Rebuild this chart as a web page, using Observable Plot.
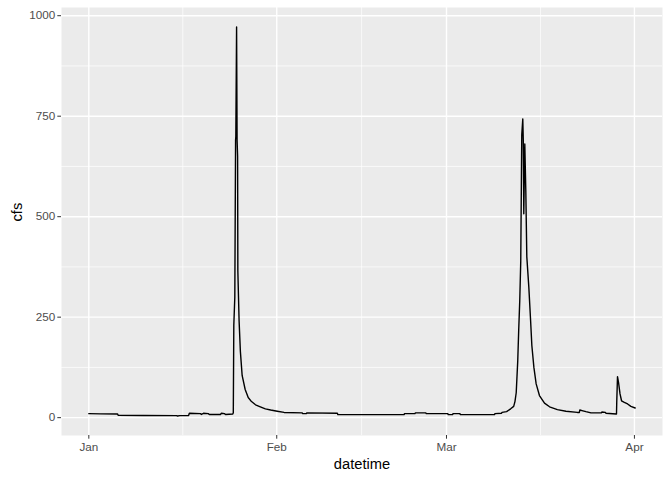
<!DOCTYPE html>
<html>
<head>
<meta charset="utf-8">
<script src="https://cdn.jsdelivr.net/npm/d3@7"></script>
<script src="https://cdn.jsdelivr.net/npm/@observablehq/plot@0.6"></script>
<style>
  html, body { margin: 0; padding: 0; background: #ffffff; }
  #chart { width: 672px; height: 480px; }
</style>
</head>
<body>
<div id="chart"></div>
<script>
const datetimes = [
  "2019-01-01 00:00","2019-01-03 00:00","2019-01-05 18:00","2019-01-05 20:00","2019-01-10 00:00",
  "2019-01-15 12:00","2019-01-15 15:00","2019-01-16 00:00","2019-01-17 11:00","2019-01-17 14:00",
  "2019-01-19 10:00","2019-01-19 14:00","2019-01-19 22:00","2019-01-20 17:00","2019-01-20 21:00",
  "2019-01-22 17:00","2019-01-22 21:00","2019-01-23 09:00","2019-01-23 13:00","2019-01-24 18:00",
  "2019-01-24 20:00","2019-01-24 22:00","2019-01-25 02:00","2019-01-25 05:00","2019-01-25 06:00",
  "2019-01-25 09:00","2019-01-25 11:00","2019-01-25 13:00","2019-01-25 14:00","2019-01-25 19:00",
  "2019-01-26 00:00","2019-01-26 07:00","2019-01-26 19:00","2019-01-27 07:00","2019-01-27 20:00",
  "2019-01-28 12:00","2019-01-29 07:00","2019-01-30 03:00","2019-01-31 00:00","2019-02-01 02:00",
  "2019-02-02 05:00","2019-02-05 05:00","2019-02-05 06:00","2019-02-05 22:00","2019-02-05 23:00",
  "2019-02-11 00:00","2019-02-11 02:00","2019-02-22 00:00","2019-02-22 02:00","2019-02-23 19:00",
  "2019-02-23 21:00","2019-02-25 14:00","2019-02-25 16:00","2019-03-01 05:00","2019-03-01 07:00",
  "2019-03-02 00:00","2019-03-02 02:00","2019-03-03 05:00","2019-03-03 07:00","2019-03-08 22:00",
  "2019-03-09 00:00","2019-03-10 02:00","2019-03-10 04:00","2019-03-10 22:00","2019-03-11 14:00",
  "2019-03-12 02:00","2019-03-12 07:00","2019-03-12 12:00","2019-03-12 18:00","2019-03-12 22:00",
  "2019-03-13 02:00","2019-03-13 06:00","2019-03-13 10:00","2019-03-13 14:00","2019-03-13 16:00",
  "2019-03-13 18:00","2019-03-13 22:00","2019-03-14 02:00","2019-03-14 06:00","2019-03-14 14:00",
  "2019-03-14 21:00","2019-03-15 02:00","2019-03-15 10:00","2019-03-15 19:00","2019-03-16 08:00",
  "2019-03-17 04:00","2019-03-18 00:00","2019-03-19 07:00","2019-03-20 17:00","2019-03-22 14:00",
  "2019-03-22 22:00","2019-03-23 00:00","2019-03-23 12:00","2019-03-24 00:00","2019-03-24 20:00",
  "2019-03-26 13:00","2019-03-26 15:00","2019-03-27 05:00","2019-03-27 07:00","2019-03-29 00:00",
  "2019-03-29 01:00","2019-03-29 02:00","2019-03-29 05:00","2019-03-29 09:00","2019-03-29 15:00",
  "2019-03-29 21:00","2019-03-30 08:00","2019-03-30 21:00","2019-03-31 10:00","2019-04-01 03:00"
];
const cfsValues = [
  10, 9.5, 9, 6, 5.5,
  5, 4, 5, 5.5, 11,
  10, 8, 11, 10, 8,
  8, 11, 10, 8, 9,
  12, 230, 300, 690, 700,
  972, 690, 650, 365, 240,
  165, 105, 70, 50, 40,
  32, 27, 22, 19, 16,
  13, 12, 10, 10, 12,
  11, 7.5, 7.5, 10, 10,
  12, 12, 10, 10, 7.5,
  7.5, 10, 10, 7.5, 7.5,
  10, 11, 13, 15, 22,
  28, 40, 62, 140, 220,
  290, 390, 704, 743, 690,
  507, 681, 565, 400, 324,
  241, 179, 125, 84, 55,
  36, 27, 20, 16, 13,
  13, 19, 17, 15, 12,
  12, 14, 13, 11, 9,
  9, 38, 102, 88, 59,
  42, 38, 34, 28, 24
];
const yMajorTicks = [0, 250, 500, 750, 1000];
const yMinorTicks = [125, 375, 625, 875];
const xMajorTicks = ["2019-01-01 00:00", "2019-02-01 00:00", "2019-03-01 00:00", "2019-04-01 00:00"];
const xMinorTicks = ["2019-01-16 12:00", "2019-02-15 00:00", "2019-03-16 12:00"];
const xTickLabels = ["Jan", "Feb", "Mar", "Apr"];
const xTitle = "datetime";
const yTitle = "cfs";

const parse = d3.utcParse("%Y-%m-%d %H:%M");
const data = datetimes.map((d, i) => ({datetime: parse(d), cfs: cfsValues[i]}));
const xMaj = xMajorTicks.map(parse);
const xMin = xMinorTicks.map(parse);

const [t0, t1] = d3.extent(data, d => d.datetime);
const tPad = (t1 - t0) * 0.05;
const [v0, v1] = d3.extent(data, d => d.cfs);
const vPad = (v1 - v0) * 0.05;

const labelMap = new Map(xMaj.map((d, i) => [+d, xTickLabels[i]]));

const font = "'Liberation Sans', Arial, sans-serif";

const chart = Plot.plot({
  width: 672,
  height: 480,
  marginLeft: 61,
  marginRight: 10,
  marginTop: 7,
  marginBottom: 45,
  style: {fontFamily: font, background: "#ffffff", overflow: "visible"},
  x: {type: "utc", domain: [new Date(+t0 - tPad), new Date(+t1 + tPad)]},
  y: {domain: [v0 - vPad, v1 + vPad]},
  marks: [
    Plot.frame({fill: "#EBEBEB", stroke: null}),
    Plot.ruleY(yMinorTicks, {stroke: "#ffffff", strokeWidth: 0.7}),
    Plot.ruleX(xMin, {stroke: "#ffffff", strokeWidth: 0.7}),
    Plot.ruleY(yMajorTicks, {stroke: "#ffffff", strokeWidth: 1.4}),
    Plot.ruleX(xMaj, {stroke: "#ffffff", strokeWidth: 1.4}),
    Plot.line(data, {x: "datetime", y: "cfs", stroke: "#000000", strokeWidth: 1.4}),
    Plot.axisY({ticks: yMajorTicks, tickSize: 3.7, tickPadding: 2.5, fontSize: 11.7, stroke: "#333333", fill: "#4D4D4D", label: null, tickFormat: d => String(d)}),
    Plot.axisX({ticks: xMaj, tickSize: 3.7, tickPadding: 3.5, fontSize: 11.7, stroke: "#333333", fill: "#4D4D4D", label: null, tickFormat: d => labelMap.get(+d)}),
    Plot.text([yTitle], {text: d => d, frameAnchor: "left", dx: -44, rotate: -90, fontSize: 14.7, fill: "#000000"}),
    Plot.text([xTitle], {text: d => d, frameAnchor: "bottom", dy: 33, fontSize: 14.7, fill: "#000000"})
  ]
});
document.getElementById("chart").appendChild(chart);
</script>
</body>
</html>
